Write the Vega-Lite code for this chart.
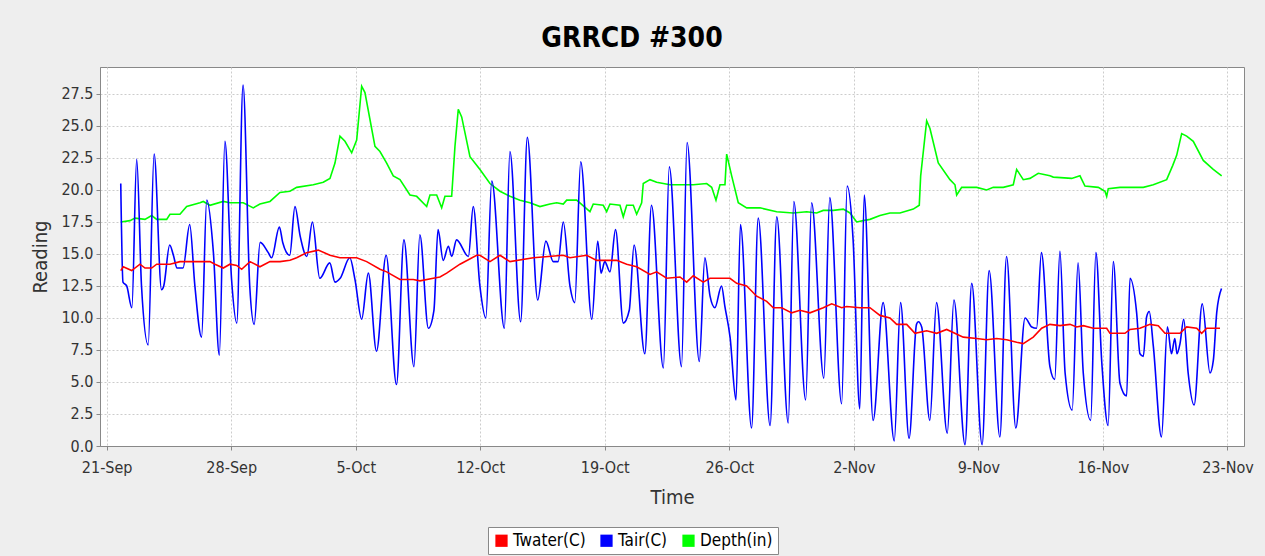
{
"$schema":"https://vega.github.io/schema/vega-lite/v6.json",
"width":1144,"height":379,
"autosize":{"type":"none"},
"padding":{"left":100,"top":67,"right":21,"bottom":110},
"background":"#EEEEEE",
"title":{"text":"GRRCD #300","font":"DejaVu Sans Condensed","fontSize":28,"fontWeight":"bold","color":"#000000","anchor":"middle","frame":"group","dx":-40,"dy":23,"baseline":"alphabetic","offset":15},
"config":{
"view":{"fill":"white","stroke":"#888888","strokeWidth":1},
"font":"DejaVu Sans Condensed",
"axis":{"gridColor":"#cccccc","gridDash":[2,2],"gridWidth":1,"domainColor":"#888888","tickColor":"#888888","tickSize":4,"labelFont":"DejaVu Sans Condensed","labelFontSize":16,"labelColor":"#333333","titleFont":"DejaVu Sans Condensed","titleFontSize":20,"titleFontWeight":"normal","titleColor":"#333333"}
},
"datasets":{
"tair":[
{"t":"2010-09-21T19:00","v":20.5},{"t":"2010-09-21T22:00","v":12.8},{"t":"2010-09-22T03:00","v":12.5},{"t":"2010-09-22T10:00","v":10.8},{"t":"2010-09-22T16:30","v":22.4},{"t":"2010-09-22T23:00","v":12.5},{"t":"2010-09-23T08:00","v":7.9},{"t":"2010-09-23T16:00","v":22.8},{"t":"2010-09-24T02:00","v":12.2},{"t":"2010-09-24T05:00","v":12.5},{"t":"2010-09-24T13:00","v":15.7},{"t":"2010-09-24T18:00","v":14.9},{"t":"2010-09-24T23:00","v":13.9},{"t":"2010-09-25T07:00","v":13.9},{"t":"2010-09-25T16:00","v":17.3},{"t":"2010-09-25T23:00","v":12.5},{"t":"2010-09-26T08:00","v":8.5},{"t":"2010-09-26T15:00","v":19.2},{"t":"2010-09-27T00:00","v":15.1},{"t":"2010-09-27T08:00","v":7.1},{"t":"2010-09-27T15:30","v":23.8},{"t":"2010-09-28T00:30","v":13.0},{"t":"2010-09-28T07:30","v":9.6},{"t":"2010-09-28T16:00","v":28.2},{"t":"2010-09-29T01:00","v":12.5},{"t":"2010-09-29T07:00","v":9.5},{"t":"2010-09-29T15:00","v":15.9},{"t":"2010-09-30T02:00","v":15.1},{"t":"2010-09-30T06:30","v":14.7},{"t":"2010-09-30T17:00","v":17.1},{"t":"2010-09-30T21:30","v":15.9},
{"t":"2010-10-01T07:00","v":14.9},{"t":"2010-10-01T14:00","v":18.7},{"t":"2010-10-01T21:00","v":16.4},{"t":"2010-10-02T06:00","v":14.8},{"t":"2010-10-02T13:30","v":17.5},{"t":"2010-10-02T23:30","v":13.1},{"t":"2010-10-03T13:00","v":14.3},{"t":"2010-10-03T20:00","v":12.8},{"t":"2010-10-04T03:00","v":13.1},{"t":"2010-10-04T16:00","v":14.7},{"t":"2010-10-04T23:00","v":13.0},{"t":"2010-10-05T08:00","v":9.9},{"t":"2010-10-05T17:00","v":13.5},{"t":"2010-10-06T04:00","v":7.4},{"t":"2010-10-06T17:00","v":14.9},{"t":"2010-10-07T07:00","v":4.8},{"t":"2010-10-07T17:00","v":16.1},{"t":"2010-10-08T06:30","v":6.2},{"t":"2010-10-08T14:30","v":16.5},{"t":"2010-10-09T02:00","v":9.2},{"t":"2010-10-09T09:30","v":10.6},{"t":"2010-10-09T15:00","v":16.9},{"t":"2010-10-09T22:00","v":14.5},{"t":"2010-10-10T05:00","v":15.6},{"t":"2010-10-10T09:30","v":14.8},{"t":"2010-10-10T16:00","v":16.1},{"t":"2010-10-11T08:00","v":14.8},{"t":"2010-10-11T14:30","v":18.7},{"t":"2010-10-11T23:30","v":12.5},{"t":"2010-10-12T07:30","v":10.0},{"t":"2010-10-12T15:30","v":20.7},{"t":"2010-10-13T08:30","v":9.2},{"t":"2010-10-13T16:00","v":23.0},{"t":"2010-10-14T06:30","v":9.7},{"t":"2010-10-14T15:30","v":24.1},{"t":"2010-10-15T05:30","v":11.4},{"t":"2010-10-15T16:30","v":16.0},{"t":"2010-10-16T02:30","v":14.4},{"t":"2010-10-16T09:00","v":14.4},{"t":"2010-10-16T16:00","v":17.5},{"t":"2010-10-17T01:00","v":12.5},{"t":"2010-10-17T07:30","v":11.2},{"t":"2010-10-17T15:30","v":22.2},{"t":"2010-10-18T06:30","v":9.9},{"t":"2010-10-18T14:30","v":16.0},{"t":"2010-10-18T19:00","v":13.5},{"t":"2010-10-19T00:00","v":14.4},{"t":"2010-10-19T07:00","v":13.6},{"t":"2010-10-19T14:30","v":16.9},{"t":"2010-10-20T01:00","v":9.6},{"t":"2010-10-20T09:00","v":10.6},{"t":"2010-10-20T15:30","v":15.7},{"t":"2010-10-21T06:00","v":7.2},{"t":"2010-10-21T15:00","v":18.8},{"t":"2010-10-22T07:00","v":6.1},{"t":"2010-10-22T15:00","v":21.8},{"t":"2010-10-23T07:30","v":6.2},{"t":"2010-10-23T15:00","v":23.7},{"t":"2010-10-24T07:30","v":6.6},{"t":"2010-10-24T15:00","v":14.7},{"t":"2010-10-24T22:00","v":11.7},{"t":"2010-10-25T04:30","v":10.8},{"t":"2010-10-25T13:30","v":12.5},{"t":"2010-10-25T18:00","v":10.9},{"t":"2010-10-26T01:00","v":8.5},{"t":"2010-10-26T09:00","v":3.6},{"t":"2010-10-26T15:00","v":17.3},{"t":"2010-10-27T06:00","v":1.4},{"t":"2010-10-27T15:00","v":17.8},{"t":"2010-10-28T07:00","v":1.6},{"t":"2010-10-28T16:00","v":17.9},{"t":"2010-10-29T07:30","v":1.8},{"t":"2010-10-29T15:00","v":19.1},{"t":"2010-10-30T07:00","v":3.6},{"t":"2010-10-30T15:00","v":19.0},{"t":"2010-10-31T07:30","v":5.3},{"t":"2010-10-31T15:30","v":19.4},
{"t":"2010-11-01T07:30","v":3.3},{"t":"2010-11-01T15:00","v":20.3},{"t":"2010-11-01T23:00","v":16.1},{"t":"2010-11-02T08:00","v":2.9},{"t":"2010-11-02T14:00","v":19.6},{"t":"2010-11-03T02:00","v":2.0},{"t":"2010-11-03T15:30","v":11.2},{"t":"2010-11-04T06:30","v":0.4},{"t":"2010-11-04T15:00","v":11.2},{"t":"2010-11-05T02:30","v":0.6},{"t":"2010-11-05T12:30","v":9.5},{"t":"2010-11-05T15:00","v":9.7},{"t":"2010-11-05T19:30","v":9.3},{"t":"2010-11-06T06:30","v":2.0},{"t":"2010-11-06T15:30","v":11.2},{"t":"2010-11-07T06:00","v":1.0},{"t":"2010-11-07T15:00","v":11.4},{"t":"2010-11-08T06:00","v":0.1},{"t":"2010-11-08T15:00","v":12.7},{"t":"2010-11-09T05:00","v":0.1},{"t":"2010-11-09T14:30","v":13.7},{"t":"2010-11-10T05:00","v":0.7},{"t":"2010-11-10T14:00","v":14.8},{"t":"2010-11-11T02:30","v":1.4},{"t":"2010-11-11T15:00","v":10.0},{"t":"2010-11-12T00:00","v":9.3},{"t":"2010-11-12T06:30","v":9.2},{"t":"2010-11-12T13:00","v":15.1},{"t":"2010-11-13T00:30","v":6.2},{"t":"2010-11-13T07:00","v":5.2},{"t":"2010-11-13T14:00","v":15.2},{"t":"2010-11-13T21:00","v":5.7},{"t":"2010-11-14T06:30","v":2.8},{"t":"2010-11-14T14:30","v":14.3},{"t":"2010-11-14T21:30","v":5.7},{"t":"2010-11-15T07:30","v":2.0},{"t":"2010-11-15T14:30","v":15.1},{"t":"2010-11-15T22:30","v":6.5},{"t":"2010-11-16T07:00","v":1.6},{"t":"2010-11-16T14:00","v":14.4},{"t":"2010-11-16T23:00","v":4.9},{"t":"2010-11-17T08:00","v":3.9},{"t":"2010-11-17T12:30","v":13.1},{"t":"2010-11-17T21:30","v":10.4},{"t":"2010-11-18T02:00","v":7.2},{"t":"2010-11-18T06:30","v":7.0},{"t":"2010-11-18T11:00","v":10.1},{"t":"2010-11-18T14:30","v":10.5},{"t":"2010-11-18T20:00","v":7.8},{"t":"2010-11-19T07:00","v":0.7},{"t":"2010-11-19T15:00","v":9.3},{"t":"2010-11-19T20:30","v":7.2},{"t":"2010-11-20T01:00","v":8.4},{"t":"2010-11-20T04:00","v":7.2},{"t":"2010-11-20T08:00","v":8.0},{"t":"2010-11-20T13:00","v":9.9},{"t":"2010-11-20T19:00","v":5.7},{"t":"2010-11-21T03:00","v":3.2},{"t":"2010-11-21T14:00","v":11.1},{"t":"2010-11-22T00:30","v":5.7},{"t":"2010-11-22T05:00","v":6.7},{"t":"2010-11-22T09:30","v":10.4},{"t":"2010-11-22T16:00","v":12.3}
],
"twater":[
{"t":"2010-09-21T19:00","v":13.7},{"t":"2010-09-21T22:24","v":14.0},{"t":"2010-09-22T09:43","v":13.7},{"t":"2010-09-22T20:56","v":14.2},{"t":"2010-09-23T03:40","v":13.9},{"t":"2010-09-23T12:43","v":13.9},{"t":"2010-09-23T19:27","v":14.2},{"t":"2010-09-24T13:24","v":14.2},{"t":"2010-09-25T02:53","v":14.4},{"t":"2010-09-25T20:50","v":14.4},{"t":"2010-09-26T10:19","v":14.4},{"t":"2010-09-26T19:22","v":14.4},{"t":"2010-09-27T02:07","v":14.2},{"t":"2010-09-27T13:18","v":13.9},{"t":"2010-09-27T22:20","v":14.2},{"t":"2010-09-28T07:23","v":14.1},{"t":"2010-09-28T14:08","v":13.8},{"t":"2010-09-29T01:19","v":14.4},{"t":"2010-09-29T14:48","v":14.0},{"t":"2010-09-30T04:18","v":14.4},{"t":"2010-09-30T17:47","v":14.4},
{"t":"2010-10-01T07:17","v":14.5},{"t":"2010-10-01T16:19","v":14.7},{"t":"2010-10-02T05:48","v":15.1},{"t":"2010-10-02T21:27","v":15.3},{"t":"2010-10-03T13:14","v":14.9},{"t":"2010-10-04T02:44","v":14.7},{"t":"2010-10-05T01:16","v":14.7},{"t":"2010-10-05T14:45","v":14.4},{"t":"2010-10-06T08:42","v":13.8},{"t":"2010-10-06T17:44","v":13.6},{"t":"2010-10-07T11:41","v":13.0},{"t":"2010-10-08T05:37","v":13.0},{"t":"2010-10-08T14:40","v":12.9},{"t":"2010-10-09T08:37","v":13.1},{"t":"2010-10-09T17:38","v":13.2},{"t":"2010-10-10T02:41","v":13.5},{"t":"2010-10-10T20:37","v":14.2},{"t":"2010-10-11T19:09","v":14.9},{"t":"2010-10-11T23:37","v":14.9},{"t":"2010-10-12T13:06","v":14.4},{"t":"2010-10-13T02:36","v":14.9},{"t":"2010-10-13T16:05","v":14.4},{"t":"2010-10-14T23:31","v":14.7},{"t":"2010-10-16T15:59","v":14.9},{"t":"2010-10-17T01:02","v":14.7},{"t":"2010-10-17T23:33","v":14.9},{"t":"2010-10-18T13:02","v":14.5},{"t":"2010-10-19T16:02","v":14.5},{"t":"2010-10-20T05:31","v":14.2},{"t":"2010-10-20T19:00","v":14.0},{"t":"2010-10-21T12:57","v":13.4},{"t":"2010-10-21T22:00","v":13.6},{"t":"2010-10-22T11:28","v":13.1},{"t":"2010-10-23T05:25","v":13.2},{"t":"2010-10-23T14:28","v":12.8},{"t":"2010-10-23T23:22","v":13.3},{"t":"2010-10-24T12:52","v":12.8},{"t":"2010-10-24T21:53","v":13.1},{"t":"2010-10-26T00:53","v":13.1},{"t":"2010-10-26T09:55","v":12.7},{"t":"2010-10-26T23:24","v":12.5},{"t":"2010-10-27T12:53","v":11.7},{"t":"2010-10-28T02:24","v":11.3},{"t":"2010-10-28T11:17","v":10.8},{"t":"2010-10-28T22:37","v":10.8},{"t":"2010-10-29T12:07","v":10.4},{"t":"2010-10-29T23:18","v":10.6},{"t":"2010-10-30T12:47","v":10.4},{"t":"2010-10-31T06:44","v":10.8},{"t":"2010-10-31T18:04","v":11.1},
{"t":"2010-11-01T07:34","v":10.8},{"t":"2010-11-01T14:18","v":10.9},{"t":"2010-11-02T08:15","v":10.8},{"t":"2010-11-02T21:45","v":10.8},{"t":"2010-11-03T11:14","v":10.2},{"t":"2010-11-04T00:43","v":10.0},{"t":"2010-11-04T09:46","v":9.5},{"t":"2010-11-04T23:15","v":9.5},{"t":"2010-11-05T10:27","v":8.8},{"t":"2010-11-06T02:14","v":9.0},{"t":"2010-11-06T15:43","v":8.8},{"t":"2010-11-07T05:12","v":9.1},{"t":"2010-11-08T03:37","v":8.5},{"t":"2010-11-08T21:42","v":8.4},{"t":"2010-11-09T11:11","v":8.3},{"t":"2010-11-10T00:40","v":8.4},{"t":"2010-11-10T14:10","v":8.3},{"t":"2010-11-11T03:39","v":8.1},{"t":"2010-11-11T12:33","v":8.0},{"t":"2010-11-12T02:02","v":8.5},{"t":"2010-11-12T13:22","v":9.2},{"t":"2010-11-13T00:34","v":9.5},{"t":"2010-11-13T14:04","v":9.4},{"t":"2010-11-14T03:33","v":9.5},{"t":"2010-11-14T12:36","v":9.3},{"t":"2010-11-14T21:30","v":9.4},{"t":"2010-11-15T10:59","v":9.2},{"t":"2010-11-16T05:04","v":9.2},{"t":"2010-11-16T09:31","v":8.8},{"t":"2010-11-17T05:46","v":8.8},{"t":"2010-11-17T12:30","v":9.1},{"t":"2010-11-18T02:00","v":9.2},{"t":"2010-11-18T15:29","v":9.5},{"t":"2010-11-19T02:41","v":9.4},{"t":"2010-11-19T11:43","v":8.8},{"t":"2010-11-20T07:57","v":8.8},{"t":"2010-11-20T16:59","v":9.3},{"t":"2010-11-21T06:29","v":9.2},{"t":"2010-11-21T13:14","v":8.8},{"t":"2010-11-21T19:58","v":9.2},{"t":"2010-11-22T13:55","v":9.2}
],
"depth":[
{"t":"2010-09-21T19:00","v":17.5},{"t":"2010-09-22T07:26","v":17.6},{"t":"2010-09-22T14:11","v":17.8},{"t":"2010-09-23T03:40","v":17.7},{"t":"2010-09-23T12:43","v":18.0},{"t":"2010-09-23T19:27","v":17.7},{"t":"2010-09-24T08:57","v":17.7},{"t":"2010-09-24T13:24","v":18.1},{"t":"2010-09-25T02:53","v":18.1},{"t":"2010-09-25T11:56","v":18.7},{"t":"2010-09-26T05:51","v":19.0},{"t":"2010-09-26T10:19","v":19.1},{"t":"2010-09-26T19:22","v":18.8},{"t":"2010-09-27T13:18","v":19.1},{"t":"2010-09-27T22:20","v":19.0},{"t":"2010-09-28T16:16","v":19.0},{"t":"2010-09-29T05:47","v":18.6},{"t":"2010-09-29T14:48","v":18.9},{"t":"2010-09-30T04:18","v":19.1},{"t":"2010-09-30T17:47","v":19.8},
{"t":"2010-10-01T07:17","v":19.9},{"t":"2010-10-01T16:19","v":20.2},{"t":"2010-10-02T14:43","v":20.4},{"t":"2010-10-03T04:12","v":20.6},{"t":"2010-10-03T13:14","v":20.9},{"t":"2010-10-03T20:00","v":22.1},{"t":"2010-10-04T02:44","v":24.2},{"t":"2010-10-04T09:29","v":23.8},{"t":"2010-10-04T18:32","v":22.9},{"t":"2010-10-05T01:16","v":23.9},{"t":"2010-10-05T08:01","v":28.1},{"t":"2010-10-05T12:27","v":27.6},{"t":"2010-10-05T19:12","v":25.5},{"t":"2010-10-06T01:57","v":23.4},{"t":"2010-10-06T08:42","v":23.0},{"t":"2010-10-06T17:44","v":22.1},{"t":"2010-10-07T02:38","v":21.1},{"t":"2010-10-07T11:41","v":20.8},{"t":"2010-10-08T01:10","v":19.6},{"t":"2010-10-08T10:12","v":19.5},{"t":"2010-10-08T23:42","v":18.7},{"t":"2010-10-09T04:09","v":19.6},{"t":"2010-10-09T13:12","v":19.6},{"t":"2010-10-09T19:56","v":18.6},{"t":"2010-10-10T00:23","v":19.5},{"t":"2010-10-10T09:26","v":19.5},{"t":"2010-10-10T13:52","v":23.4},{"t":"2010-10-10T18:20","v":26.3},{"t":"2010-10-10T22:55","v":25.7},{"t":"2010-10-11T10:06","v":22.6},{"t":"2010-10-11T23:37","v":21.6},{"t":"2010-10-12T13:06","v":20.5},{"t":"2010-10-13T02:36","v":19.9},{"t":"2010-10-13T16:05","v":19.5},{"t":"2010-10-14T05:34","v":19.2},{"t":"2010-10-14T19:03","v":19.0},{"t":"2010-10-15T08:33","v":18.7},{"t":"2010-10-15T22:02","v":18.9},{"t":"2010-10-16T07:05","v":19.0},{"t":"2010-10-16T15:59","v":18.9},{"t":"2010-10-16T20:34","v":19.2},{"t":"2010-10-17T10:03","v":19.2},{"t":"2010-10-18T04:00","v":18.3},{"t":"2010-10-18T08:27","v":18.9},{"t":"2010-10-18T21:56","v":18.8},{"t":"2010-10-19T02:32","v":18.3},{"t":"2010-10-19T06:58","v":18.9},{"t":"2010-10-19T20:28","v":18.8},{"t":"2010-10-20T00:56","v":17.9},{"t":"2010-10-20T05:31","v":18.8},{"t":"2010-10-20T14:25","v":18.8},{"t":"2010-10-20T19:00","v":18.1},{"t":"2010-10-21T01:45","v":19.0},{"t":"2010-10-21T03:54","v":20.5},{"t":"2010-10-21T12:57","v":20.8},{"t":"2010-10-21T22:00","v":20.6},{"t":"2010-10-22T15:56","v":20.4},{"t":"2010-10-23T05:25","v":20.4},{"t":"2010-10-23T23:22","v":20.4},{"t":"2010-10-24T17:27","v":20.5},{"t":"2010-10-25T00:11","v":20.2},{"t":"2010-10-25T06:00","v":19.2},{"t":"2010-10-25T11:23","v":20.4},{"t":"2010-10-25T18:07","v":20.4},{"t":"2010-10-25T20:25","v":22.8},{"t":"2010-10-26T03:10","v":21.1},{"t":"2010-10-26T12:04","v":19.0},{"t":"2010-10-26T23:24","v":18.6},{"t":"2010-10-27T17:21","v":18.6},{"t":"2010-10-28T15:52","v":18.3},{"t":"2010-10-29T14:16","v":18.2},{"t":"2010-10-30T08:21","v":18.3},{"t":"2010-10-30T21:50","v":18.2},{"t":"2010-10-31T06:44","v":18.4},{"t":"2010-10-31T20:14","v":18.4},
{"t":"2010-11-01T09:43","v":18.5},{"t":"2010-11-01T18:46","v":18.2},{"t":"2010-11-02T03:48","v":17.5},{"t":"2010-11-02T12:42","v":17.6},{"t":"2010-11-02T21:45","v":17.7},{"t":"2010-11-03T11:14","v":18.0},{"t":"2010-11-04T00:43","v":18.2},{"t":"2010-11-04T14:13","v":18.2},{"t":"2010-11-05T08:10","v":18.5},{"t":"2010-11-05T16:15","v":18.8},{"t":"2010-11-05T18:09","v":21.1},{"t":"2010-11-06T02:14","v":25.4},{"t":"2010-11-06T06:41","v":24.8},{"t":"2010-11-06T17:53","v":22.1},{"t":"2010-11-07T09:40","v":20.8},{"t":"2010-11-07T16:25","v":20.4},{"t":"2010-11-07T18:43","v":19.6},{"t":"2010-11-08T01:28","v":20.2},{"t":"2010-11-08T21:42","v":20.2},{"t":"2010-11-09T11:11","v":20.0},{"t":"2010-11-09T20:05","v":20.2},{"t":"2010-11-10T09:34","v":20.2},{"t":"2010-11-10T23:04","v":20.4},{"t":"2010-11-11T03:39","v":21.6},{"t":"2010-11-11T12:33","v":20.8},{"t":"2010-11-11T21:36","v":20.9},{"t":"2010-11-12T08:47","v":21.3},{"t":"2010-11-13T00:34","v":21.1},{"t":"2010-11-13T05:01","v":21.0},{"t":"2010-11-14T05:51","v":20.9},{"t":"2010-11-14T17:02","v":21.1},{"t":"2010-11-14T23:47","v":20.3},{"t":"2010-11-15T17:44","v":20.2},{"t":"2010-11-16T02:47","v":19.9},{"t":"2010-11-16T05:04","v":19.5},{"t":"2010-11-16T07:13","v":20.1},{"t":"2010-11-16T23:01","v":20.2},{"t":"2010-11-18T06:27","v":20.2},{"t":"2010-11-18T19:57","v":20.4},{"t":"2010-11-19T14:01","v":20.8},{"t":"2010-11-19T22:06","v":21.9},{"t":"2010-11-20T03:30","v":22.7},{"t":"2010-11-20T10:15","v":24.4},{"t":"2010-11-20T16:59","v":24.2},{"t":"2010-11-21T01:54","v":23.8},{"t":"2010-11-21T15:23","v":22.3},{"t":"2010-11-22T04:52","v":21.6},{"t":"2010-11-22T16:13","v":21.1}
]
},
"encoding":{
"x":{"field":"t","type":"temporal","title":"Time",
"scale":{"domain":[{"year":2010,"month":9,"date":20,"hours":15},{"year":2010,"month":11,"date":23,"hours":22,"minutes":20}]},
"axis":{"values":[{"year":2010,"month":9,"date":21},{"year":2010,"month":9,"date":28},{"year":2010,"month":10,"date":5},{"year":2010,"month":10,"date":12},{"year":2010,"month":10,"date":19},{"year":2010,"month":10,"date":26},{"year":2010,"month":11,"date":2},{"year":2010,"month":11,"date":9},{"year":2010,"month":11,"date":16},{"year":2010,"month":11,"date":23}],"format":"%-d-%b","labelPadding":9,"titlePadding":12,"grid":true,"labelFlush":false,"labelOverlap":false}},
"y":{"field":"v","type":"quantitative","title":"Reading",
"scale":{"domain":[0,29.6],"nice":false,"zero":false},
"axis":{"values":[0,2.5,5,7.5,10,12.5,15,17.5,20,22.5,25,27.5],"format":".1f","grid":true,"labelPadding":3,"titlePadding":10}}
},
"layer":[
{"data":{"name":"depth"},"mark":{"type":"line","strokeWidth":1.6},
"encoding":{"color":{"datum":"Depth(in)","type":"nominal",
"scale":{"domain":["Twater(C)","Tair(C)","Depth(in)"],"range":["#ff0000","#0000ff","#00ff00"]},
"legend":{"orient":"none","legendX":388,"legendY":460,"direction":"horizontal","title":null,"symbolType":"square","symbolSize":150,"symbolStrokeWidth":0,"labelFont":"DejaVu Sans Condensed","labelFontSize":17,"labelColor":"#000000","strokeColor":"#888888","fillColor":"#ffffff","padding":5,"columnPadding":12,"labelOffset":3,
"encode":{"symbols":{"update":{"fill":{"scale":"color","field":"value"},"fillOpacity":{"value":1},"strokeWidth":{"value":0}}}}}}}},
{"data":{"name":"tair"},"mark":{"type":"line","strokeWidth":1.6,"interpolate":"monotone"},"encoding":{"color":{"datum":"Tair(C)","type":"nominal"}}},
{"data":{"name":"twater"},"mark":{"type":"line","strokeWidth":1.6},"encoding":{"color":{"datum":"Twater(C)","type":"nominal"}}}
]
}
